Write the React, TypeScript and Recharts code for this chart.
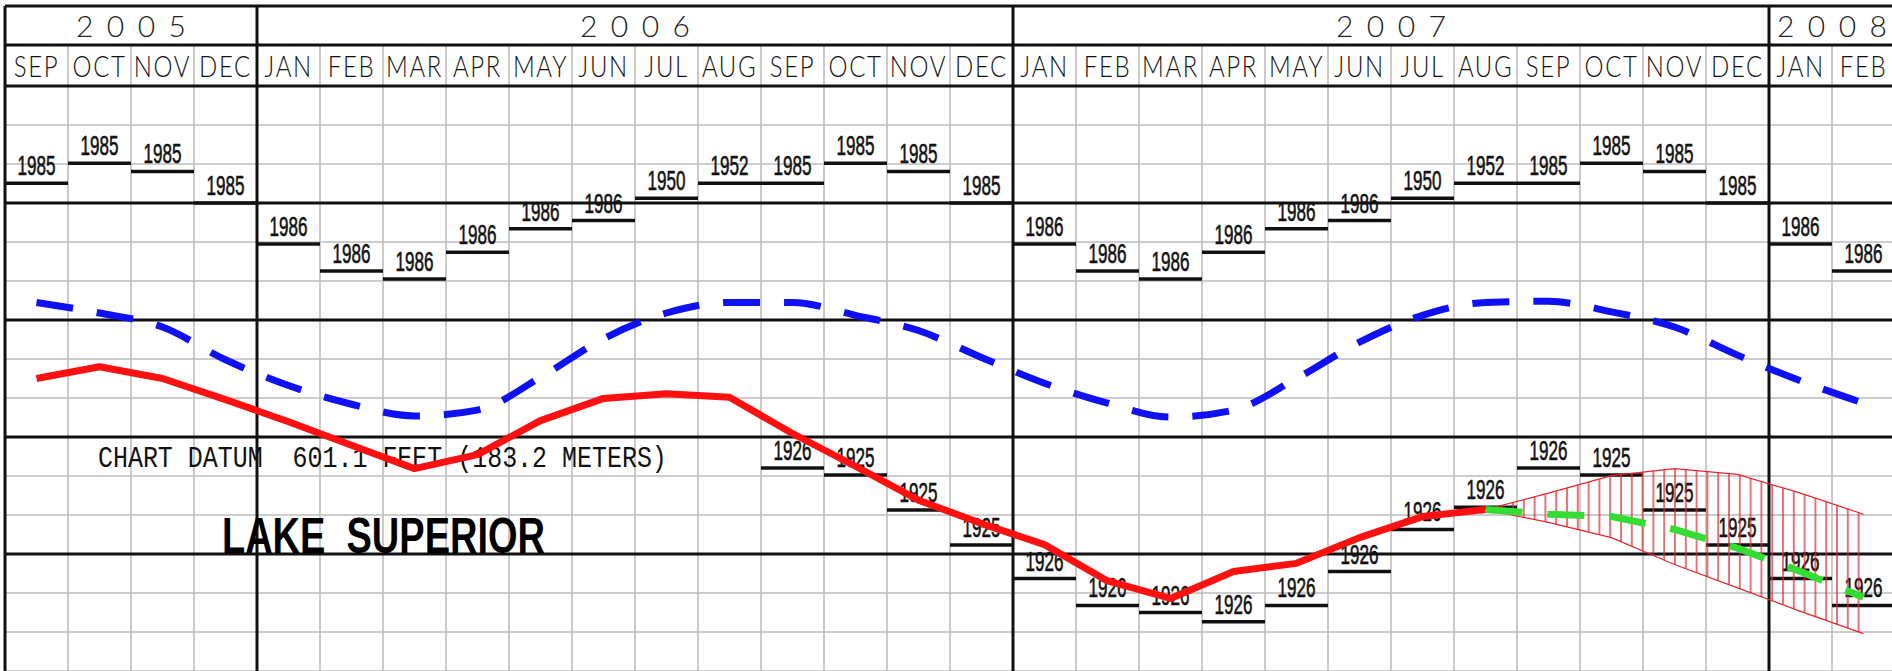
import React from 'react';
import {
  ComposedChart,
  Line,
  Area,
  Scatter,
  XAxis,
  YAxis,
  CartesianGrid,
  ReferenceLine,
  ReferenceArea,
  ReferenceDot,
} from 'recharts';

// ---------- data (feet above sea level, IGLD 1985) ----------
const MONTHS = [
  'SEP', 'OCT', 'NOV', 'DEC',
  'JAN', 'FEB', 'MAR', 'APR', 'MAY', 'JUN', 'JUL', 'AUG', 'SEP', 'OCT', 'NOV', 'DEC',
  'JAN', 'FEB', 'MAR', 'APR', 'MAY', 'JUN', 'JUL', 'AUG', 'SEP', 'OCT', 'NOV', 'DEC',
  'JAN', 'FEB',
];
const YEARS = ['2005', '2006', '2007', '2008'];
const YEAR_START = [0, 4, 16, 28];
const YEAR_END = [4, 16, 28, 30];

const LONG_TERM_AVG = [
  602.15, 602.06, 601.94, 601.66,
  601.44, 601.28, 601.18, 601.23, 601.51, 601.84, 602.06, 602.15, 602.15, 602.04, 601.91, 601.68,
  601.46, 601.29, 601.17, 601.23, 601.5, 601.81, 602.04, 602.15, 602.16, 602.07, 601.94, 601.7,
  601.48, 601.29,
];
const RECORDED = [
  601.5, 601.6, 601.5, 601.32,
  601.13, 600.93, 600.73, 600.85, 601.14, 601.33, 601.37, 601.34, 601.03, 600.75, 600.46, 600.26,
  600.08, 599.77, 599.62, 599.85, 599.92, 600.14, 600.32, 600.38, null, null, null, null,
  null, null,
];
const FORECAST = [
  null, null, null, null,
  null, null, null, null, null, null, null, null, null, null, null, null,
  null, null, null, null, null, null, null, 600.38, 600.34, 600.32, 600.21, 600.05,
  599.85, 599.63,
];
const RANGE_LOW = [
  null, null, null, null,
  null, null, null, null, null, null, null, null, null, null, null, null,
  null, null, null, null, null, null, null, 600.38, 600.27, 600.14, 599.91, 599.71,
  599.51, 599.32,
];
const RANGE_HIGH = [
  null, null, null, null,
  null, null, null, null, null, null, null, null, null, null, null, null,
  null, null, null, null, null, null, null, 600.38, 600.52, 600.67, 600.73, 600.68,
  600.52, 600.34,
];

const REC_HIGH = [
  603.17, 603.34, 603.27, 603.0,
  602.65, 602.42, 602.35, 602.58, 602.78, 602.85, 603.04, 603.17, 603.17, 603.34, 603.27, 603.0,
  602.65, 602.42, 602.35, 602.58, 602.78, 602.85, 603.04, 603.17, 603.17, 603.34, 603.27, 603.0,
  602.65, 602.42,
];
const REC_HIGH_YEAR = [
  '1985', '1985', '1985', '1985',
  '1986', '1986', '1986', '1986', '1986', '1986', '1950', '1952', '1985', '1985', '1985', '1985',
  '1986', '1986', '1986', '1986', '1986', '1986', '1950', '1952', '1985', '1985', '1985', '1985',
  '1986', '1986',
];
const REC_LOW = [
  null, null, null, null,
  null, null, null, null, null, null, null, null, 600.735, 600.675, 600.376, 600.077,
  599.79, 599.56, 599.5, 599.42, 599.56, 599.85, 600.21, 600.4, 600.735, 600.675, 600.376, 600.077,
  599.79, 599.56,
];
const REC_LOW_YEAR = [
  null, null, null, null,
  null, null, null, null, null, null, null, null, '1926', '1925', '1925', '1925',
  '1926', '1926', '1926', '1926', '1926', '1926', '1926', '1926', '1926', '1925', '1925', '1925',
  '1926', '1926',
];

const FOOT_LINES = [600, 601, 602, 603, 604];

// ---------- layout constants (axis units) ----------
const Y_BOTTOM = 599;
const Y_TOP = 604.684;
const YEAR_SPLIT = 604.35;
const MONTH_ROW_Y = 604.175;
const YEAR_ROW_Y = 604.517;

const GRID_TICKS: number[] = [];
for (let k = 0; k <= 30; k++) GRID_TICKS.push(Y_BOTTOM + k / 6);
const X_TICKS: number[] = [];
for (let k = 0; k <= 30; k++) X_TICKS.push(k);

const chartData = MONTHS.map((m, i) => ({
  x: i + 0.5,
  lta: LONG_TERM_AVG[i],
  recorded: RECORDED[i],
  forecast: FORECAST[i],
  range: RANGE_LOW[i] == null ? null : [RANGE_LOW[i], RANGE_HIGH[i]],
}));

const highLabels = REC_HIGH.map((v, i) => ({ x: i + 0.5, y: v, label: REC_HIGH_YEAR[i] }));
const lowLabels = REC_LOW.map((v, i) => ({ x: i + 0.5, y: v, label: REC_LOW_YEAR[i] })).filter(
  (d) => d.y != null
);
const monthLabels = MONTHS.map((m, i) => ({ x: i + 0.5, y: MONTH_ROW_Y, label: m }));
const yearLabels = YEARS.map((yr, i) => ({
  x: (YEAR_START[i] + YEAR_END[i]) / 2,
  y: YEAR_ROW_Y,
  label: yr,
}));

const RecordLabel = (props: any) => {
  const { cx, cy, payload } = props;
  if (cx == null || cy == null || !payload) return null;
  return (
    <g transform={`translate(${cx},${cy - 8}) scale(0.61,1)`}>
      <text
        x={0}
        y={0}
        textAnchor="middle"
        fontFamily="'Liberation Sans', Arial, sans-serif"
        fontSize={28}
        fill="#111"
        stroke="#111"
        strokeWidth={0.6}
      >
        {payload.label}
      </text>
    </g>
  );
};

const MonthLabel = (props: any) => {
  const { cx, cy, payload } = props;
  if (cx == null || cy == null || !payload) return null;
  return (
    <g transform={`translate(${cx},${cy + 11}) scale(0.8,1)`}>
      <text
        x={0}
        y={0}
        textAnchor="middle"
        fontFamily="Lato, 'DejaVu Sans', sans-serif"
        fontWeight={300}
        fontSize={30}
        letterSpacing={2}
        fill="#111"
      >
        {payload.label}
      </text>
    </g>
  );
};

const YearLabel = (props: any) => {
  const { cx, cy, payload } = props;
  if (cx == null || cy == null || !payload) return null;
  return (
    <text
      x={cx}
      y={cy + 11}
      textAnchor="middle"
      fontFamily="Lato, 'DejaVu Sans', sans-serif"
      fontWeight={300}
      fontSize={30}
      textLength={110}
      lengthAdjust="spacing"
      fill="#222"
    >
      {payload.label}
    </text>
  );
};

const DatumText = (props: any) => {
  const { cx, cy } = props;
  if (cx == null || cy == null) return null;
  return (
    <g transform={`translate(${cx},${cy}) scale(0.832,1)`}>
      <text
        x={0}
        y={0}
        textAnchor="start"
        fontFamily="'Liberation Mono', 'DejaVu Sans Mono', monospace"
        fontSize={30}
        fill="#111"
        style={{ whiteSpace: 'pre' }}
      >
        {'CHART DATUM  601.1 FEET (183.2 METERS)'}
      </text>
    </g>
  );
};

const LakeText = (props: any) => {
  const { cx, cy } = props;
  if (cx == null || cy == null) return null;
  return (
    <text
      x={cx}
      y={cy}
      textAnchor="start"
      fontFamily="'Liberation Sans', Arial, sans-serif"
      fontWeight={700}
      fontSize={50}
      textLength={323}
      lengthAdjust="spacingAndGlyphs"
      fill="#000"
      style={{ whiteSpace: 'pre' }}
    >
      {'LAKE  SUPERIOR'}
    </text>
  );
};

export default function App() {
  return (
    <div
      style={{
        position: 'absolute',
        left: 0,
        top: 0,
        width: 1892,
        height: 671,
        overflow: 'hidden',
        background: '#fff',
      }}
    >
      <ComposedChart
        width={1896}
        height={671}
        data={chartData}
        margin={{ top: 6, right: 1, bottom: 0, left: 5 }}
      >
        <defs>
          <pattern id="hatch" patternUnits="userSpaceOnUse" width="10.8" height="20">
            <line x1="1" y1="0" x2="1" y2="20" stroke="#e3262e" strokeWidth="1.3" />
          </pattern>
        </defs>
        <XAxis
          dataKey="x"
          type="number"
          domain={[0, 30]}
          ticks={X_TICKS}
          allowDataOverflow
          hide
        />
        <YAxis
          dataKey="y"
          type="number"
          domain={[Y_BOTTOM, Y_TOP]}
          ticks={GRID_TICKS}
          allowDataOverflow
          hide
        />
        <CartesianGrid stroke="#bdbdbd" strokeWidth={1.6} zIndex={-100} />

        {/* blank year row */}
        <ReferenceArea
          x1={0}
          x2={30}
          y1={YEAR_SPLIT}
          y2={Y_TOP}
          fill="#fff"
          fillOpacity={1}
          stroke="none"
          zIndex={-90}
        />

        {/* heavy grid lines */}
        {FOOT_LINES.map((v) => (
          <ReferenceLine key={'f' + v} y={v} stroke="#111" strokeWidth={3} zIndex={-80} />
        ))}
        <ReferenceLine y={YEAR_SPLIT} stroke="#111" strokeWidth={3} zIndex={-80} />
        <ReferenceLine y={Y_TOP} stroke="#111" strokeWidth={3} zIndex={-80} />
        {YEAR_START.map((v) => (
          <ReferenceLine key={'yr' + v} x={v} stroke="#111" strokeWidth={3} zIndex={-80} />
        ))}

        {/* record high / low monthly bars */}
        {REC_HIGH.map((v, i) => (
          <ReferenceLine
            key={'rh' + i}
            segment={[
              { x: i, y: v },
              { x: i + 1, y: v },
            ]}
            stroke="#111"
            strokeWidth={3.5}
            zIndex={-70}
          />
        ))}
        {REC_LOW.map((v, i) =>
          v == null ? null : (
            <ReferenceLine
              key={'rl' + i}
              segment={[
                { x: i, y: v },
                { x: i + 1, y: v },
              ]}
              stroke="#111"
              strokeWidth={3.5}
              zIndex={-70}
            />
          )
        )}

        <Scatter data={highLabels} shape={RecordLabel} isAnimationActive={false} zIndex={-60} />
        <Scatter data={lowLabels} shape={RecordLabel} isAnimationActive={false} zIndex={-60} />
        <Scatter data={monthLabels} shape={MonthLabel} isAnimationActive={false} zIndex={-60} />
        <Scatter data={yearLabels} shape={YearLabel} isAnimationActive={false} zIndex={-60} />

        <ReferenceDot x={1.476} y={600.744} r={0} shape={DatumText} zIndex={-60} />
        <ReferenceDot x={3.444} y={600.01} r={0} shape={LakeText} zIndex={-60} />

        <Area
          type="linear"
          dataKey="range"
          stroke="#e3262e"
          strokeWidth={1.2}
          fill="url(#hatch)"
          fillOpacity={1}
          isAnimationActive={false}
          dot={false}
          activeDot={false}
          zIndex={100}
        />
        <Line
          type="monotone"
          dataKey="lta"
          stroke="#1010f5"
          strokeWidth={7}
          strokeDasharray="37 24"
          dot={false}
          activeDot={false}
          isAnimationActive={false}
          zIndex={400}
        />
        <Line
          type="linear"
          dataKey="recorded"
          stroke="#ff1010"
          strokeWidth={7}
          strokeLinejoin="round"
          dot={false}
          activeDot={false}
          isAnimationActive={false}
          zIndex={410}
        />
        <Line
          type="linear"
          dataKey="forecast"
          stroke="#33dd33"
          strokeWidth={7}
          strokeDasharray="37 25"
          dot={false}
          activeDot={false}
          isAnimationActive={false}
          zIndex={420}
        />
      </ComposedChart>
    </div>
  );
}
